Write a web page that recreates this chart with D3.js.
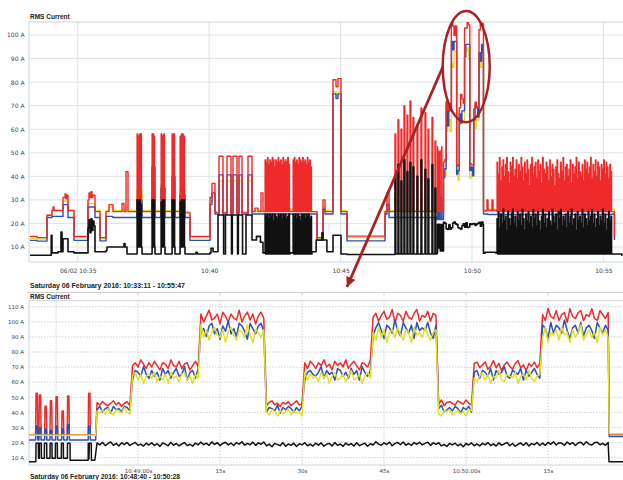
<!DOCTYPE html>
<html><head><meta charset="utf-8">
<script src="https://cdn.jsdelivr.net/npm/d3@7"></script>
<style>body{margin:0;background:#fff}svg{display:block}</style>
</head><body>
<script>
// ================= DATA =================
// ---- top chart (time = minutes past 10:00) ----
const topTitle = "RMS Current";
const topCaption = "Saturday 06 February 2016: 10:33:11 - 10:55:47";
const topDomain = [33 + 11/60, 55 + 47/60];
const topYTicks = [10,20,30,40,50,60,70,80,90,100];
const topXTicks = [35,40,45,50,55];
const topXLabels = ["06/02 10:35","10:40","10:45","10:50","10:55"];

// step points [minute, amps]
const topRed = [[33.183,14.5],[33.45,14.0],[33.83,23.5],[34.02,25.5],[34.058,27],[34.096,25.5],[34.439,31],[34.515,32.5],[34.553,30.5],[34.591,32],[34.629,25.5],[34.857,14.5],[35.39,30],[35.428,33],[35.466,31],[35.504,33.5],[35.542,31],[35.58,32],[35.656,25],[35.847,14],[36.075,25],[36.189,28],[36.341,25],[36.684,28.5],[36.76,25],[36.836,42],[36.912,25],[37.445,25],[37.939,25],[38.32,25],[38.70,25],[39.081,24.5],[39.271,14.5],[40.032,31],[40.108,37],[40.222,24.5],[40.374,48.5],[40.526,24.5],[40.679,48.5],[40.831,24.5],[40.907,48.5],[41.059,24.5],[41.135,48.5],[41.249,24.5],[41.478,48.5],[41.63,25],[41.744,26.5],[41.858,25],[41.972,33],[42.048,25],[43.076,25],[43.913,25],[44.103,14],[44.331,30],[44.407,25],[44.712,81],[44.826,78],[44.902,81.5],[45.016,25],[45.245,14.6],[46.691,25],[46.767,33],[46.843,25]];
const topRedPost = [[50.571,30],[50.61,25.5],[50.761,30],[50.80,25.5],[50.95,25],[55.33,25],[55.42,14.4]];

const topYellow = [[33.183,13.8],[33.45,13.4],[33.83,23.5],[34.02,25.5],[34.439,29.5],[34.629,25.5],[34.857,14],[35.39,28.5],[35.656,25.5],[35.847,13.5],[36.075,25.5],[36.189,27],[36.341,25.5],[36.836,27],[36.912,25.5],[37.254,34],[37.445,25.5],[37.825,33],[37.939,25.5],[38.168,36],[38.32,25.5],[38.586,38],[38.70,25.5],[38.89,34],[39.081,25],[39.271,14],[40.032,29],[40.108,33],[40.222,25],[40.374,38],[40.526,25],[40.679,38],[40.831,25],[40.907,38],[41.059,25],[41.135,38],[41.249,25],[41.478,38],[41.63,25.5],[43.913,25],[44.103,13.6],[44.331,27],[44.407,25.5],[44.712,76],[44.826,74],[44.902,76],[45.016,25.5],[45.245,14],[46.691,25.5],[46.767,29],[46.843,25.5]];
const topYellowPost = [[50.6,26],[52.0,30],[52.04,26],[53.9,30],[53.94,26],[54.6,29],[54.64,26],[55.33,26],[55.42,14]];

const topBlue = [[33.183,12.8],[33.45,12.5],[33.83,22.5],[34.02,23],[34.439,28],[34.629,22.5],[34.857,12.8],[35.39,27],[35.656,22.5],[35.847,12.6],[36.075,23],[36.341,22.5],[37.254,30],[37.445,22.5],[37.825,44],[37.939,22.5],[38.168,35],[38.32,22.5],[38.586,40],[38.70,22.5],[38.89,32],[39.081,22.5],[39.271,12.8],[40.032,28],[40.108,33],[40.222,24],[40.374,40.6],[40.526,24],[40.679,40.6],[40.831,24],[40.907,40.6],[41.059,24],[41.135,40.6],[41.249,24],[41.478,40.6],[41.63,24],[43.913,24],[44.103,12.8],[44.331,26],[44.407,24],[44.712,75],[44.826,73],[44.902,75],[45.016,24],[45.245,12.6],[46.691,24],[46.767,28],[46.843,22.5]];
const topBluePost = [[50.6,23.8],[51.5,33],[51.54,23.8],[53.3,32],[53.34,23.8],[55.33,24],[55.42,13]];

const topBlack = [[33.183,6.5],[33.99,15],[34.02,7.5],[34.25,8],[34.362,16.4],[34.401,8],[34.439,13.5],[34.629,8],[34.857,7.5],[35.39,18],[35.428,21.5],[35.466,16],[35.504,22],[35.542,17],[35.58,21],[35.618,19],[35.656,8],[36.075,8.5],[36.113,10],[36.76,11.5],[36.798,10],[36.874,7],[37.445,7],[37.939,7],[38.32,7],[38.70,7],[39.081,7],[39.5,7.8],[39.55,7],[40.032,7.5],[40.07,9.5],[40.15,8],[40.336,23.6],[40.55,7],[40.62,23.6],[40.85,7],[40.88,23.6],[41.08,7],[41.11,23.6],[41.27,7],[41.40,23.6],[41.63,13],[41.80,14.5],[41.95,12],[42.048,7.5],[43.076,7.5],[43.913,8],[44.07,13],[44.29,16],[44.33,13],[44.48,8],[44.712,15],[45.016,7],[45.245,6.8]];
const topBlackPost = [[50.5,7.8],[50.90,7.5],[55.33,7],[55.7,6.2]];

// dense bursts: start/end minute, peaks of each cycle
const burstStart = [37.254,37.825,38.168,38.586,38.890,42.124,43.190,50.95];
const burstEnd   = [37.445,37.939,38.320,38.700,39.081,43.076,43.913,55.33];
const burstRedBase = [25,25,25,25,25,25,25,25];
const burstBlackBase = [10,10,10,10,10,7,7,7];
const burstRedPeaks = [
  [58,57,58,58],[58,58,57],[58,57,58],[58,58,58],[57,58,58,57],
  [47,46,48,45,47,46,48,47,44,47,46,48,46,47,45,48,46,47,46,48,45],
  [47,48,46,47,45,48,47,46,48,46,47,45,48,46,47,44],
  [46,41,48,38,44,47,40,45,48,42,37,46,44,48,40,43,47,39,45,42,
   48,44,38,46,41,47,43,36,45,48,40,44,46,39,47,42,45,37,48,43,
   41,46,44,38,47,40,45,43,36,44,47,41,39,46,42,48,38,44,45,40,
   43,47,37,45,41,44,48,39,46,42,40,45,38,47,43,46,41,44,48,39,
   45,42,47,40,46,44,38,45,43,47,41,46,44,39,45,42]
];
const burstBlackPeaks = [
  [30,29,30,28],[30,29,30],[29,30,30],[30,28,30],[29,30,29,30],
  [24,23,24,22,24,23,24,21,24,23,22,24,23,24,22,24,23,24,22,23,24],
  [24,23,24,22,24,23,21,24,23,24,22,24,23,24,22,23],
  [22,25,18,24,20,26,21,23,17,25,22,19,24,26,20,23,18,25,21,24,
   19,26,22,17,24,21,25,20,23,18,26,22,24,19,25,21,17,23,26,20,
   24,18,22,25,21,19,26,23,20,24,17,25,22,26,19,23,21,24,18,25,
   20,23,26,19,22,24,17,25,21,23,20,26,18,24,22,19,25,21,23,26,
   20,24,18,22,25,19,23,21,26,20,24,17,22,25,21,23]
];
// thin spikes 10:47 - 10:48:40
const spikeTimes = [47.071,47.185,47.299,47.413,47.528,47.642,47.756,47.908,48.060,48.212,48.326,48.478,48.592];
const spikeRed   = [58,64,60,70,66,72,65,62,69,67,60,65,55];
const spikeBlack = [40,45,38,47,42,46,44,40,47,43,39,45,35];

// annotation (top chart units): ellipse centre minute, centre A, rx minutes, ry A; arrow from/to
const annoEllipse = [49.78, 86.6, 0.894, 23.6];
const annoArrow = [[48.89, 86.4], [45.24, -7]];

// ---- bottom chart (time = seconds after 10:48:40) ----
const botTitle = "RMS Current";
const botCaption = "Saturday 06 February 2016: 10:48:40 - 10:50:28";
const botStartMin = 48 + 40/60;
const botDomain = [0, 108];
const botYTicks = [10,20,30,40,50,60,70,80,90,100,110];
const botXTicks = [5,20,35,50,65,80,95];
const botXLabels = ["","10:49:00s","15s","30s","45s","10:50:00s","15s"];

const botSpikeTimes = [1.46,2.07,3.11,4.08,5.12,6.22,7.24,11.08];
const botSpikeRed  = [52.6,51.5,44,47.7,50.4,41,50.8,52.6];
const botSpikeBlue = [31,30,29,28,31,29,32,31];
const botStartLevel = {red:25, yellow:24.8, blue:21.7};
const botEndLevel = {red:25.3, yellow:25.8, blue:24, black:7.4};
const botBlackStart = [[0,7.4],[1.3,7.4],[1.34,19.5],[1.77,19.5],[1.8,9.6],[1.95,9.6],[1.97,19.5],[2.31,19.5],[2.33,9.6],[2.86,9.6],[2.88,19.5],[3.29,19.5],[3.31,9.6],[3.9,9.6],[3.92,19.5],[4.26,19.5],[4.28,9.6],[4.87,9.6],[4.89,19.5],[5.24,19.5],[5.26,9.6],[5.97,9.6],[5.99,19.5],[6.34,19.5],[6.36,9.6],[7.07,9.6],[7.09,19.5],[7.56,19.5],[7.58,8.3],[10.88,8.3],[10.9,19.5],[11.0,9],[11.1,19.5],[11.45,19.5],[11.47,8.3],[12.1,8.3]];

// level plateaus (segment start seconds) and mean values
const levelBreaks = [12.5,19,31.5,43.5,50.5,63,75,81.5,94];
const redLevels    = [45.5,71,102.5,45.5,71,103,46,70.5,103.5];
const blueLevels   = [42.5,66.5,95.5,42.5,66.5,96,42.5,66.5,96];
const yellowLevels = [41,64,93,40.5,64,93,40.5,64,93];
const blackLevels  = [19,18.8,19.2,18.6,18.7,19.2,18.6,18.8,19.3];
const noiseScale   = [0.55,0.95,1.3,0.55,0.95,1.3,0.55,0.95,1.3];
const noiseGain    = {red:1, blue:1.35, yellow:1.3, black:1};
const redNoise = [2,-1,3,0,-2,1,4,-1,2,-3,1,3,-2,0,2,-1,4,1,-2,2,
 -1,3,0,-3,2,1,-2,4,0,-1,3,-2,1,2,-3,0,3,-1,2,-2,
 1,4,-1,0,2,-3,3,1,-2,2,0,-1,4,-2,1,3,-1,2,-3,1,
 3,0,-2,2,4,-1,1,-3,2,0,3,-2,1,4,-1,0,2,-2,3,1,
 -2,2,0,4,-1,1,-3,3,0,2,-1,4,-2,1,3,0,-3,2,1,-1,
 4,0,2,-2,1,3,-1,0,4,-3,2,1,-2,3,0,-1,2,4,-2,1,
 0,3,-2,2,1,-1,4,-3,1,2,0,-2,3,1,-1,4,0,-2,2,3,
 -1,1,3,-2,0,4,-1,2,-3,1,3,0,-2,2,4,-1,1,-3,2,0,
 3,-1,2,1,-2,4,0,-1,3,-2,
 1,2,-3,4,0,-1,2,3,-2,1,0,4,-1,-2,3,1,-1,2];
const blueNoise = [-1,2,-3,0,1,-4,2,-1,0,-3,2,1,-2,-4,1,0,-2,3,-1,-3,
 1,-2,0,-4,2,-1,1,-3,0,2,-2,-1,3,-4,0,1,-3,2,-1,0,
 -3,1,2,-2,0,-4,1,-1,3,-2,0,-3,2,1,-1,-4,2,0,-2,1,
 2,-1,-3,1,0,-2,3,-4,1,-1,2,0,-3,1,-2,2,-4,0,1,-1,
 -2,0,3,-3,1,-1,0,-4,2,1,-2,0,-3,2,-1,1,-4,3,0,-2,
 1,-3,0,2,-1,-4,1,0,-2,3,-1,-3,2,0,-2,1,-4,2,-1,0,
 -1,2,-2,-4,1,0,3,-3,-1,1,-2,2,0,-4,1,-1,2,-3,0,1,
 -3,1,0,-2,2,-4,1,-1,0,3,-2,-3,1,0,-1,2,-4,1,-2,0,
 2,-1,-3,1,0,-4,2,-2,1,0,
 -2,3,-1,-4,0,1,-2,2,-3,0,1,-1,-4,2,0,-2,1,-1];
const yellowNoise = [0,-2,1,-3,2,-1,-4,1,0,-2,3,-1,-3,0,2,-2,1,-4,0,1,
 -1,2,-3,0,-2,1,-4,2,-1,0,-3,1,2,-2,0,-4,1,-1,3,-2,
 1,-3,0,2,-1,-2,1,-4,0,2,-1,-3,1,0,-2,3,-1,-4,1,0,
 -2,1,-1,-3,2,0,-4,1,-2,0,2,-3,1,-1,0,-4,2,-2,1,-1,
 0,-3,2,-1,1,-4,0,2,-2,-1,1,-3,0,3,-2,-1,1,-4,0,2,
 -1,0,-3,2,-2,1,-4,0,1,-2,2,-1,-3,1,0,-4,2,-1,0,-2,
 2,-1,-3,0,1,-2,-4,1,0,2,-3,-1,1,-2,0,-4,2,1,-1,-3,
 0,2,-2,1,-4,0,-1,3,-2,-3,1,0,-1,2,-4,0,1,-2,3,-1,
 -3,0,1,-2,2,-4,0,-1,1,-3,
 2,-1,0,-4,1,-2,0,3,-3,-1,1,-2,0,-4,2,-1,1,-2];
const blackNoise = [0.8,-0.5,1.2,-1,0.3,1.5,-0.8,0.5,-1.2,0.9,-0.3,1.1,-0.9,0.4,1.3,-0.6,0.2,-1.1,0.8,-0.4,
 1,-0.7,0.5,-1.3,0.9,0.2,-0.9,1.4,-0.5,0.6,-1,0.3,1.2,-0.8,0.1,-1.2,0.9,-0.3,1.1,-0.6,
 0.4,-1,1.3,-0.4,0.7,-1.2,0.2,1,-0.7,0.5,-1.1,0.8,-0.2,1.4,-0.9,0.3,-0.6,1.1,-1,0.6,
 -0.3,1.2,-0.8,0.4,-1.3,0.9,0.1,-0.6,1.3,-1,0.5,-0.4,1,-1.2,0.7,-0.1,1.2,-0.8,0.3,-1,
 0.9,-0.4,1.1,-1.1,0.2,0.8,-0.9,1.3,-0.5,0.4,-1.2,1,-0.3,0.6,-1,1.2,-0.7,0.1,0.9,-1.1,
 0.5,-0.8,1.4,-0.2,-1,0.7,-0.5,1.1,-1.3,0.3,0.9,-0.6,1.2,-0.9,0.2,-1.1,0.8,-0.3,1,-0.7,
 0.3,1.1,-1,0.6,-0.4,1.3,-0.8,0.2,-1.2,0.9,-0.1,1,-0.7,0.5,-1.3,0.8,-0.2,1.2,-0.9,0.4,
 -1,0.7,-0.3,1.2,-0.8,0.4,-1.1,1,-0.5,0.3,1.3,-0.9,0.6,-1.2,0.1,0.9,-0.6,1.1,-1,0.5,
 -0.2,1.3,-0.7,0.4,-1.1,0.8,-0.4,1.2,-0.9,0.6,
 0.2,-1,1.1,-0.5,0.7,-1.2,0.4,0.9,-0.8,1.3,-0.3,-1,0.6,1,-0.7,0.2,-1.1,0.8];

const seriesColors = {red:"#ee2a2a", blue:"#2d4fb5", yellow:"#e3e024", black:"#111111"};

// ================= BUILD =================
function segIndex(t){ let s=0; while(s<levelBreaks.length-1 && t>=levelBreaks[s+1]) s++; return s; }
function noisePart(levels, noise, scaled, gain){
  return noise.map((n,k)=>{ const t=12.5+0.5*k, s=segIndex(t); return [t, levels[s] + n*gain*(scaled?noiseScale[s]:1)]; });
}
function spikesA(base, peaks){
  const p=[]; botSpikeTimes.forEach((t,i)=>{ p.push([t-0.2,base],[t-0.12,peaks[i]],[t+0.12,peaks[i]],[t+0.2,base]); }); return p;
}
const botRed = [[0,botStartLevel.red], ...spikesA(botStartLevel.red, botSpikeRed), [12.25,botStartLevel.red],
  ...noisePart(redLevels, redNoise, true, noiseGain.red), [106.2,botEndLevel.red],[110,botEndLevel.red]];
const botBlue = [[0,botStartLevel.blue], ...spikesA(botStartLevel.blue, botSpikeBlue), [12.25,botStartLevel.blue],
  ...noisePart(blueLevels, blueNoise, true, noiseGain.blue), [106.2,botEndLevel.blue],[110,botEndLevel.blue]];
const botYellow = [[0,botStartLevel.yellow],[12.25,botStartLevel.yellow],
  ...noisePart(yellowLevels, yellowNoise, true, noiseGain.yellow), [106.2,botEndLevel.yellow],[110,botEndLevel.yellow]];
const botBlack = [...botBlackStart, ...noisePart(blackLevels, blackNoise, false, noiseGain.black), [106.15,botEndLevel.black],[110,botEndLevel.black]];

function burstPts(peaksList, baseList){
  const p=[];
  peaksList.forEach((ps,b)=>{ const s=burstStart[b], dt=(burstEnd[b]-s)/ps.length;
    ps.forEach((v,i)=>{ p.push([s+(i+0.1)*dt, v],[s+(i+0.55)*dt, baseList[b]]); }); });
  return p;
}
function spikePts(peaks, base){ const p=[]; spikeTimes.forEach((t,i)=>p.push([t,peaks[i]],[t+0.03,base])); return p; }
// the overview chart only logs every third second
const coarse = d => d[0] <= 108 && (d[0] < 12.5 || d[0] > 106.1 || Math.round(d[0]*2) % 6 === 0);
const toTop = d => [botStartMin + d[0]/60, d[1]];
const byT = (a,b)=>a[0]-b[0];
const topSeries = {
  red: [...topRed, ...burstPts(burstRedPeaks, burstRedBase), ...spikePts(spikeRed,25), ...botRed.filter(coarse).map(toTop), ...topRedPost].sort(byT),
  blue: [...topBlue, ...botBlue.filter(coarse).map(toTop), ...topBluePost].sort(byT),
  yellow: [...topYellow, ...botYellow.filter(coarse).map(toTop), ...topYellowPost].sort(byT),
  black: [...topBlack, ...burstPts(burstBlackPeaks, burstBlackBase), ...spikePts(spikeBlack,7), ...botBlack.filter(coarse).map(toTop), ...topBlackPost].sort(byT)
};
const botSeries = {red:botRed, blue:botBlue, yellow:botYellow, black:botBlack};
const topOrder = ["yellow","blue","red","black"];
const botOrder = ["red","blue","yellow","black"];

// ================= DRAW =================
const W=623, H=480;
const svg = d3.select("body").append("svg").attr("width",W).attr("height",H).style("font-family","'DejaVu Sans', sans-serif");
const T = {l:29, t:22, r:623, b:262};
const B = {l:29, t:300.7, r:623, b:465};

const xT = d3.scaleLinear().domain(topDomain).range([30, 624]);
const yT = d3.scaleLinear().domain([0,100]).range([270.56, 35]);
const xB = d3.scaleLinear().domain(botDomain).range([28.7, 619.1]);
const yB = d3.scaleLinear().domain([0,110]).range([472.8, 306.7]);

const defs = svg.append("defs");
defs.append("clipPath").attr("id","cT").append("rect").attr("x",T.l).attr("y",T.t).attr("width",T.r-T.l).attr("height",T.b-T.t);
defs.append("clipPath").attr("id","cB").append("rect").attr("x",B.l).attr("y",B.t).attr("width",B.r-B.l).attr("height",B.b-B.t);

// ---- top chart ----
const gridC = "#dfe3e5";
svg.append("g").selectAll("line").data(topYTicks).join("line")
  .attr("x1",T.l).attr("x2",T.r).attr("y1",d=>yT(d)).attr("y2",d=>yT(d)).attr("stroke",gridC).attr("stroke-width",1);
svg.append("g").selectAll("line").data(topXTicks).join("line")
  .attr("x1",d=>xT(d)).attr("x2",d=>xT(d)).attr("y1",T.t).attr("y2",T.b).attr("stroke",gridC).attr("stroke-width",1);
svg.append("path").attr("d",`M${T.r},${T.t}H${T.l}V${T.b}H${T.r}`).attr("fill","none").attr("stroke","#cfd5d8");

const lineT = d3.line().x(d=>xT(d[0])).y(d=>yT(d[1])).curve(d3.curveStepAfter);
const gT = svg.append("g").attr("clip-path","url(#cT)");
topOrder.forEach(k=>{
  gT.append("path").datum(topSeries[k]).attr("d",lineT).attr("fill","none")
    .attr("stroke",seriesColors[k]).attr("stroke-width",k==="black"?1.6:1.4).attr("stroke-linejoin","round");
});

const axYT = svg.append("g").attr("transform",`translate(${T.l},0)`)
  .call(d3.axisLeft(yT).tickValues(topYTicks).tickSize(0).tickPadding(4.5).tickFormat(d=>d+" A"));
axYT.select(".domain").remove();
axYT.selectAll("text").attr("font-size",6).attr("font-family","'DejaVu Sans', sans-serif").attr("fill","#3a3d4d");
const axXT = svg.append("g").attr("transform",`translate(0,${T.b})`)
  .call(d3.axisBottom(xT).tickValues(topXTicks).tickSize(0).tickFormat((d,i)=>topXLabels[i]));
axXT.select(".domain").remove();
axXT.selectAll("text").attr("font-size",6).attr("font-family","'DejaVu Sans', sans-serif").attr("fill","#3a3d4d").attr("dy",null).attr("y",11);

svg.append("text").attr("x",30).attr("y",19).text(topTitle)
  .attr("font-family","'Liberation Sans', Arial, sans-serif").attr("font-weight","bold").attr("font-size",6.5).attr("fill","#222");
svg.append("text").attr("x",30).attr("y",287.5).text(topCaption)
  .attr("font-family","'Liberation Sans', Arial, sans-serif").attr("font-weight","bold").attr("font-size",7).attr("fill","#222")
  .attr("textLength",155).attr("lengthAdjust","spacingAndGlyphs");

// ---- bottom chart ----
svg.append("line").attr("x1",27).attr("x2",W).attr("y1",292.5).attr("y2",292.5).attr("stroke","#c9cdd0");
svg.append("g").selectAll("line").data(botXTicks).join("line")
  .attr("x1",d=>xB(d)).attr("x2",d=>xB(d)).attr("y1",292.5).attr("y2",295.5).attr("stroke","#c9cdd0");
svg.append("g").selectAll("line").data(botYTicks).join("line")
  .attr("x1",B.l).attr("x2",B.r).attr("y1",d=>yB(d)).attr("y2",d=>yB(d)).attr("stroke","#cfcfcf").attr("stroke-dasharray","1.5,1.5");
svg.append("g").selectAll("line").data(botXTicks).join("line")
  .attr("x1",d=>xB(d)).attr("x2",d=>xB(d)).attr("y1",B.t).attr("y2",B.b).attr("stroke","#cfcfcf").attr("stroke-dasharray","1.5,1.5");
svg.append("path").attr("d",`M${B.r},${B.t}H${B.l}V${B.b}H${B.r}`).attr("fill","none").attr("stroke","#cfd5d8");

const lineB = d3.line().x(d=>xB(d[0])).y(d=>yB(d[1])).curve(d3.curveLinear);
const gB = svg.append("g").attr("clip-path","url(#cB)");
botOrder.forEach(k=>{
  gB.append("path").datum(botSeries[k]).attr("d",lineB).attr("fill","none")
    .attr("stroke",seriesColors[k]).attr("stroke-width",1.5).attr("stroke-linejoin","round");
});

const axYB = svg.append("g").attr("transform",`translate(${B.l},0)`)
  .call(d3.axisLeft(yB).tickValues(botYTicks).tickSize(0).tickPadding(5).tickFormat(d=>d+" A"));
axYB.select(".domain").remove();
axYB.selectAll("text").attr("font-size",5.5).attr("font-family","'DejaVu Sans', sans-serif").attr("fill","#3a3d4d");
const axXB = svg.append("g").attr("transform",`translate(0,${B.b})`)
  .call(d3.axisBottom(xB).tickValues(botXTicks).tickSize(0).tickFormat((d,i)=>botXLabels[i]));
axXB.select(".domain").remove();
axXB.selectAll("text").attr("font-size",5.5).attr("font-family","'DejaVu Sans', sans-serif").attr("fill","#3a3d4d").attr("dy",null).attr("y",7.5);

svg.append("text").attr("x",30).attr("y",299).text(botTitle)
  .attr("font-family","'Liberation Sans', Arial, sans-serif").attr("font-weight","bold").attr("font-size",6.5).attr("fill","#222");
svg.append("text").attr("x",30).attr("y",478.5).text(botCaption)
  .attr("font-family","'Liberation Sans', Arial, sans-serif").attr("font-weight","bold").attr("font-size",6.5).attr("fill","#222")
  .attr("textLength",150).attr("lengthAdjust","spacingAndGlyphs");

// ---- annotation ----
const annoC = "#a82222";
defs.append("marker").attr("id","ah").attr("markerUnits","userSpaceOnUse").attr("markerWidth",11).attr("markerHeight",10)
  .attr("refX",10).attr("refY",5).attr("orient","auto")
  .append("path").attr("d","M0,0L10,5L0,10z").attr("fill",annoC);
svg.append("ellipse").attr("cx",xT(annoEllipse[0])).attr("cy",yT(annoEllipse[1]))
  .attr("rx",xT(annoEllipse[0]+annoEllipse[2])-xT(annoEllipse[0])).attr("ry",yT(annoEllipse[1]-annoEllipse[3])-yT(annoEllipse[1]))
  .attr("fill","none").attr("stroke",annoC).attr("stroke-width",2.5);
svg.append("line").attr("x1",xT(annoArrow[0][0])).attr("y1",yT(annoArrow[0][1]))
  .attr("x2",xT(annoArrow[1][0])).attr("y2",yT(annoArrow[1][1]))
  .attr("stroke",annoC).attr("stroke-width",2.8).attr("marker-end","url(#ah)");
</script>
</body></html>
